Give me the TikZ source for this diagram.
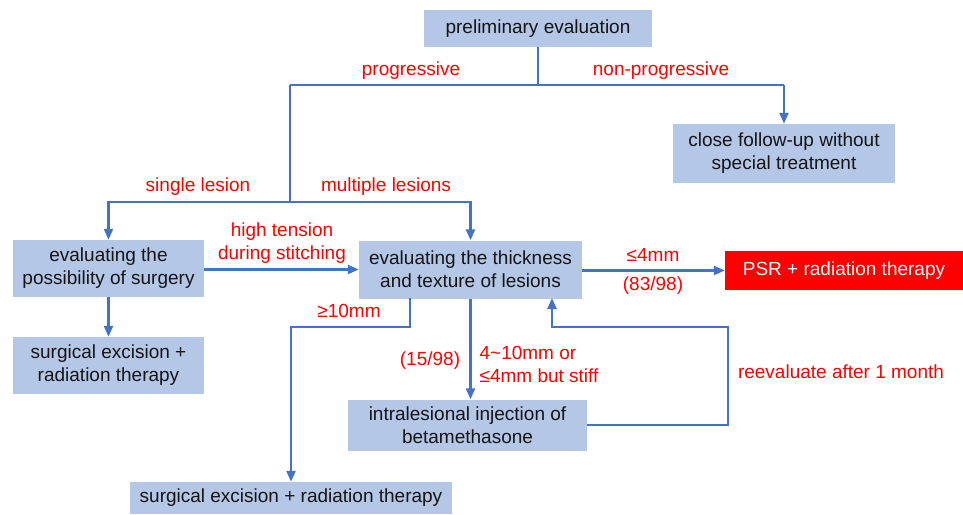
\documentclass[tikz,border=0pt]{standalone}
\usepackage{fontspec}
\setmainfont{Liberation Sans}
\usetikzlibrary{arrows.meta}
\definecolor{boxblue}{HTML}{B4C7E7}
\definecolor{lineblue}{HTML}{4472C4}
\definecolor{lblred}{HTML}{FF0000}
\definecolor{txt}{HTML}{141414}
\tikzset{
  box/.style={fill=boxblue, text=txt, inner sep=0pt, align=center, font=\fontsize{19}{23}\selectfont},
  redbox/.style={fill=lblred, text=white, inner sep=0pt, align=center, font=\fontsize{19}{23}\selectfont},
  lbl/.style={text=lblred, inner sep=0pt, align=center, font=\fontsize{19}{23}\selectfont},
  conn/.style={draw=lineblue, line width=2.4pt},
  arr/.style={conn, -{Triangle[length=11pt,width=9pt]}},
}
\begin{document}
\begin{tikzpicture}[x=1pt,y=-1pt]
\useasboundingbox (0,0) rectangle (963,514);
% boxes
\node[box, minimum width=228pt, minimum height=37pt] (prelim) at (538,28.5) {preliminary evaluation};
\node[box, minimum width=222pt, minimum height=59pt] (follow) at (784,153.5) {close follow-up without\\special treatment};
\node[box, minimum width=191pt, minimum height=57pt] (evsurg) at (108.5,268.5) {evaluating the\\possibility of surgery};
\node[box, minimum width=223pt, minimum height=58pt] (evthick) at (470.5,269.5) {evaluating the thickness\\and texture of lesions};
\node[redbox, minimum width=238pt, minimum height=39pt] (psr) at (844,270.5) {PSR + radiation therapy};
\node[box, minimum width=191pt, minimum height=57pt] (surgexc) at (108.5,365.5) {surgical excision +\\radiation therapy};
\node[box, minimum width=239pt, minimum height=51pt] (inj) at (467.5,425) {intralesional injection of\\betamethasone};
\node[box, minimum width=322pt, minimum height=32pt] (bottom) at (291,498) {surgical excision + radiation therapy};
% junction coordinates
\coordinate (j1) at (538,85);
\coordinate (jl) at (290,85);
\coordinate (jr) at (784,85);
\coordinate (j2) at (290,202);
\coordinate (t1) at (410,298);
\coordinate (t2) at (410,327);
\coordinate (l1) at (728,425);
\coordinate (l2) at (728,327);
\coordinate (l3) at (552,327);
\coordinate (l4) at (552,298);
% connectors
\draw[conn] (prelim.south) -- (j1);
\draw[conn] (jl) -- (jr);
\draw[arr] (jr) -- (follow.north);
\draw[conn] (jl) -- (j2);
\draw[arr] (j2) -| (evsurg.north);
\draw[arr] (j2) -| (evthick.north);
\draw[arr] (evsurg.east |- evthick.west) -- (evthick.west);
\draw[arr] (evsurg.south) -- (surgexc.north);
\draw[arr] (t1) -- (t2) -| (bottom.north);
\draw[arr] (evthick.south) -- (evthick.south |- inj.north);
\draw[arr] (inj.east) -- (l1) -- (l2) -- (l3) -- (l4);
\draw[arr] (evthick.east |- psr.west) -- (psr.west);
% labels
\node[lbl] (lprog) at (411,71) {progressive};
\node[lbl] (lnonprog) at (661,71) {non-progressive};
\node[lbl] (lsingle) at (198,187) {single lesion};
\node[lbl] (lmulti) at (386,187) {multiple lesions};
\node[lbl] (ltension) at (282,243) {high tension\\during stitching};
\node[lbl] (lge) at (349,311) {≥10mm};
\node[lbl] (l15) at (430,361) {(15/98)};
\node[lbl, align=left] (lmid) at (539,364) {4\textasciitilde10mm or\\≤4mm but stiff};
\node[lbl] (lre) at (841,372) {reevaluate after 1 month};
\node[lbl] (lle) at (653,255) {≤4mm};
\node[lbl] (l83) at (653,286) {(83/98)};
\end{tikzpicture}
\end{document}
